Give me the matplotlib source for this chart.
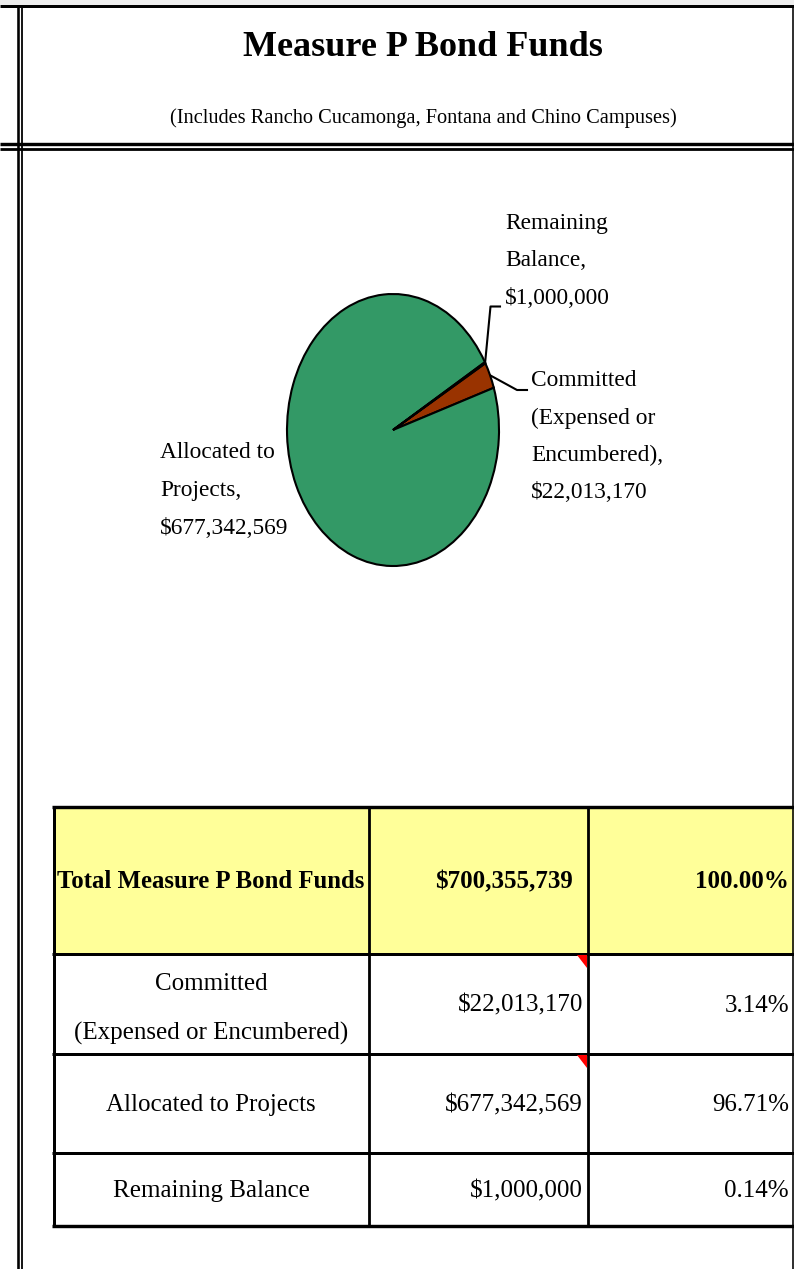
import matplotlib
matplotlib.use("Agg")
import matplotlib.pyplot as plt
from matplotlib.patches import Rectangle, Polygon
import numpy as np

# ---------------- data ----------------
categories = ["Committed (Expensed or Encumbered)", "Allocated to Projects", "Remaining Balance"]
values = [22013170, 677342569, 1000000]
percents = ["3.14%", "96.71%", "0.14%"]
total_value = 700355739
total_percent = "100.00%"
colors = ["#993300", "#339966", "#CCCCFF"]

title = "Measure P Bond Funds"
subtitle = "(Includes Rancho Cucamonga, Fontana and Chino Campuses)"
pie_label_lines = [
    ["Committed", "(Expensed or", "Encumbered),"],
    ["Allocated to", "Projects,"],
    ["Remaining", "Balance,"],
]
table_label_lines = [
    ["Committed", "(Expensed or Encumbered)"],
    ["Allocated to Projects"],
    ["Remaining Balance"],
]
header_label = "Total Measure P Bond Funds"

FONT = "Liberation Serif"
W, H = 794, 1269
DPI = 100
PX = 72.0 / DPI  # points per pixel

fig = plt.figure(figsize=(W / DPI, H / DPI), dpi=DPI)
fig.patch.set_facecolor("white")

bg = fig.add_axes([0, 0, 1, 1])
bg.set_xlim(0, W)
bg.set_ylim(H, 0)
bg.axis("off")


def hline(y, x0, x1, lw_px, color="black", z=5):
    bg.plot([x0, x1], [y, y], color=color, lw=lw_px * PX, solid_capstyle="butt", zorder=z)


def vline(x, y0, y1, lw_px, color="black", z=5):
    bg.plot([x, x], [y0, y1], color=color, lw=lw_px * PX, solid_capstyle="butt", zorder=z)


def txt(x, y, s, size, ha="left", va="center", weight="normal"):
    bg.text(x, y, s, fontsize=size, ha=ha, va=va, fontweight=weight, family=FONT, color="black", zorder=10)


# ---------------- frame ----------------
bg.add_patch(Rectangle((0, 0), W, 4.5, facecolor="#EDEDED", edgecolor="none", zorder=1))
hline(6.3, 0, W, 3.0)
hline(143.5, 0, W, 3.4)
hline(148.5, 0, W, 2.8)
vline(18.2, 4.5, H, 2.6)
vline(21.8, 4.5, H, 1.8)
vline(792.8, 4.5, H, 1.6)

txt(423, 47, title, 26, ha="center", weight="bold")
txt(423, 118, subtitle, 14.7, ha="center")

# ---------------- pie ----------------
cx, cy, rx, ry = 393, 430, 106, 136
pax = fig.add_axes([(cx - rx) / W, 1 - (cy + ry) / H, 2 * rx / W, 2 * ry / H])
wedges, _ = pax.pie(values, colors=colors, startangle=29.4, counterclock=False,
                    radius=1, wedgeprops=dict(edgecolor="black", linewidth=1.5),
                    normalize=True)
for w in wedges:
    w.set_clip_on(False)
pax.set_xlim(-1, 1)
pax.set_ylim(-1, 1)
pax.set_aspect("auto")
pax.axis("off")


def wedge_mid_px(w):
    ang = np.deg2rad((w.theta1 + w.theta2) / 2.0)
    disp = pax.transData.transform((np.cos(ang), np.sin(ang)))
    return bg.transData.inverted().transform(disp)


PIE_FS = 16.8

# Committed leader + label
p = wedge_mid_px(wedges[0])
bg.plot([p[0], 517, 527], [p[1], 390, 390], color="black", lw=1.5, zorder=6)
lines = pie_label_lines[0] + [f"${values[0]:,}"]
for i, s in enumerate(lines):
    txt(531, 381 + 37 * i, s, PIE_FS)

# Remaining leader + label
p = wedge_mid_px(wedges[2])
bg.plot([p[0], 490.5, 500], [p[1], 306.5, 306.5], color="black", lw=1.5, zorder=6)
lines = pie_label_lines[2] + [f"${values[2]:,}"]
for i, s in enumerate(lines):
    txt(505, 224 + 37 * i, s, PIE_FS)

# Allocated label
lines = pie_label_lines[1] + [f"${values[1]:,}"]
for i, s in enumerate(lines):
    txt(160, 453 + 37.5 * i, s, PIE_FS)

# ---------------- table ----------------
tx0, tx1 = 54, W
cols = [54, 369, 588]
rows = [806.5, 953.5, 1053.5, 1152.5, 1225.5]

bg.add_patch(Rectangle((tx0, rows[0]), tx1 - tx0, rows[1] - rows[0],
                       facecolor="#FFFF99", edgecolor="none", zorder=2))
hline(rows[0], tx0 - 1.7, tx1, 3.4)
for y in rows[1:4]:
    hline(y, tx0 - 1.7, tx1, 3.0)
hline(rows[4], tx0 - 1.7, tx1, 3.4)
vline(cols[0], rows[0], rows[4], 3.0)
vline(cols[1], rows[0], rows[4], 2.8)
vline(cols[2], rows[0], rows[4], 2.8)

BODY_FS = 18
PCT_FS = 18
# header
hy = (rows[0] + rows[1]) / 2 + 2
txt(57, hy, header_label, 17.8, weight="bold")
txt(573, hy, f"${total_value:,}", 18, ha="right", weight="bold")
txt(789, hy, total_percent, PCT_FS, ha="right", weight="bold")

# body
for i in range(3):
    ry0, ry1 = rows[i + 1], rows[i + 2]
    yc = (ry0 + ry1) / 2 + 2
    labs = table_label_lines[i]
    if len(labs) == 2:
        txt(211, yc - 22, labs[0], BODY_FS, ha="center")
        txt(211, yc + 28, labs[1], BODY_FS, ha="center")
    else:
        txt(211, yc, labs[0], BODY_FS, ha="center")
    txt(583, yc, f"${values[i]:,}", BODY_FS, ha="right")
    txt(789, yc, percents[i], PCT_FS, ha="right")

# comment indicators
for i in range(2):
    ry0 = rows[i + 1] + 1.5
    bg.add_patch(Polygon([[576.5, ry0], [587, ry0], [587, ry0 + 13]], closed=True,
                         facecolor="#FF0000", edgecolor="none", zorder=7))

fig.savefig("out.png", dpi=DPI)
